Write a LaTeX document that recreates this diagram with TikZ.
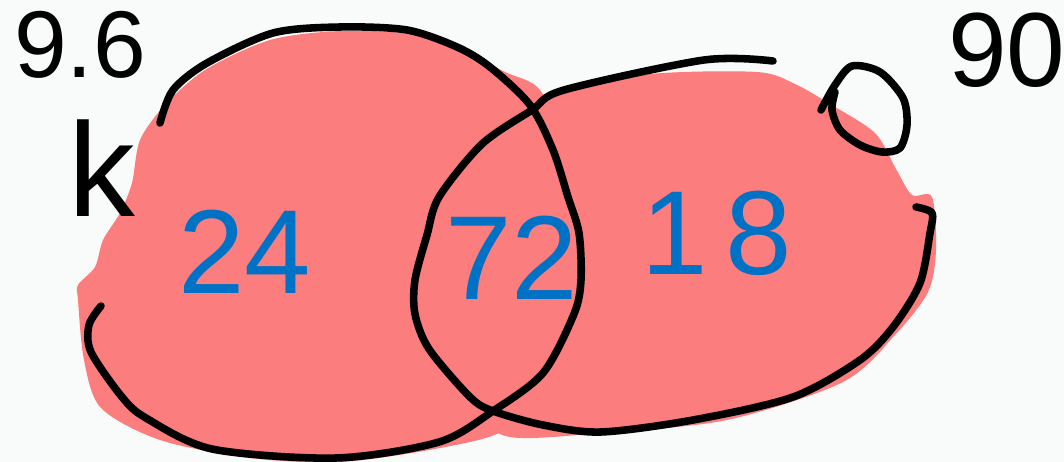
\documentclass[tikz,border=0pt]{standalone}
\usepackage{fontspec}
\setmainfont{Liberation Sans}
\definecolor{blotpink}{RGB}{252,125,125}
\definecolor{penblue}{RGB}{0,114,198}
\definecolor{paper}{RGB}{249,251,251}
\tikzset{
  pen/.style={line width=4.3pt, line cap=round, line join=round, black},
  blot/.style={fill=blotpink, draw=none},
  count/.style={penblue, font=\fontsize{68}{68}\selectfont},
  note/.style={black, font=\fontsize{54}{54}\selectfont},
}

\begin{document}
\begin{tikzpicture}[x=0.02cm, y=-0.02cm]
    % paper
    \fill[paper] (0,0) rectangle (1064,462);
    \useasboundingbox (0,0) rectangle (1064,462);
    \clip (0,0) rectangle (1064,462);

    % pink colouring
    \fill[blot] plot[smooth cycle] coordinates {(78,300) (84,360) (101,408) (160,440) (250,458) (340,462) (440,448) (505,430) (560,380) (585,300) (585,220) (565,150) (540,90) (505,72) (460,50) (410,34) (340,31) (270,40) (205,70) (165,105) (140,140) (132,183) (120,213) (103,240) (95,267) (78,285)};
    \fill[blot] plot[smooth cycle] coordinates {(450,185) (490,130) (550,92) (650,74) (757,72) (795,84) (830,104) (875,133) (896,169) (912,195) (932,197) (936,250) (928,292) (895,335) (843,382) (727,420) (601,433) (510,437) (470,410) (430,360) (417,300) (422,240)};

    % left ring
    \draw[pen] plot[smooth] coordinates {(101,306) (89,325) (91,352) (122,397) (146,418) (212,449) (336,458) (439,442) (493,411) (543,373) (574,314) (581,280) (579,233) (568,197) (553,150) (530,105) (490,67) (457,47) (407,30) (340,27) (273,33) (207,63) (173,90) (160,123)};
    % right ring
    \draw[pen] plot[smooth] coordinates {(773,61) (704,60) (564,90) (532,110) (482,144) (439,197) (427,235) (415,280) (415,314) (429,349) (470,397) (493,411) (543,425) (601,432) (693,420) (793,397) (860,360) (893,327) (920,283) (930,233) (932,213) (916,207)};
    % small ring
    \draw[pen] plot[smooth] coordinates {(821,110) (835,85) (852,66) (880,72) (903,98) (907,125) (900,148) (882,152) (860,145) (840,130) (832,110) (835,92)};

    % totals
    \node[note] (total) at (80,45) {9.6};
    \node[note, font=\fontsize{76}{76}\selectfont] (unit) at (102,168) {k};
    \node[note, font=\fontsize{60}{60}\selectfont, anchor=west] (right) at (942,50) {90};

    % counts
    \node[count] (only left) at (245,252) {24};
    \node[count] (both) at (512,258) {72};
    \node[count] (only right) at (717,233) {1\kern10pt 8};
\end{tikzpicture}
\end{document}
